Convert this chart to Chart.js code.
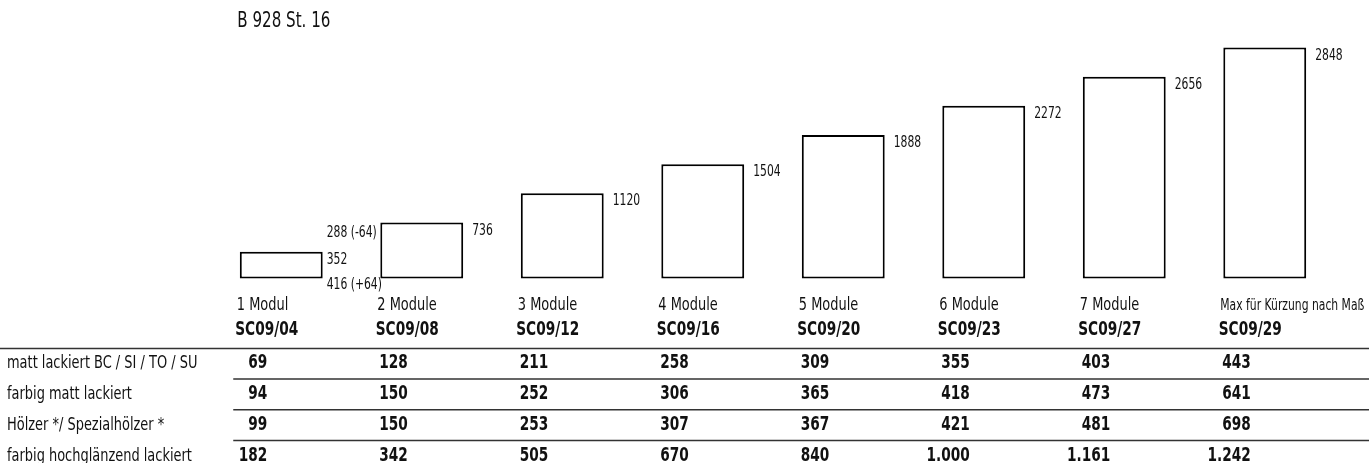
<!DOCTYPE html>
<html>
<head>
<meta charset="utf-8">
<script src="https://cdn.jsdelivr.net/npm/chart.js@4.4.1/dist/chart.umd.min.js"></script>
<style>
  html, body { margin: 0; padding: 0; background: #fff; }
  #wrap { position: relative; width: 1371px; height: 463px; }
</style>
</head>
<body>
<div id="wrap"><canvas id="c"></canvas></div>
<script>
const TITLE = 'B 928 St. 16';
const moduleLabels = ['1 Modul', '2 Module', '3 Module', '4 Module', '5 Module', '6 Module', '7 Module', 'Max für Kürzung nach Maß'];
const articleCodes = ['SC09/04', 'SC09/08', 'SC09/12', 'SC09/16', 'SC09/20', 'SC09/23', 'SC09/27', 'SC09/29'];
// height written next to each front
const heightLabels = ['352', '736', '1120', '1504', '1888', '2272', '2656', '2848'];
// heights of the rectangles as drawn (mm)
const barHeights = [352, 736, 1120, 1504, 1888, 2272, 2656, 3040];
const minusLabels = ['288 (-64)', '', '', '', '', '', '', ''];
const plusLabels = ['416 (+64)', '', '', '', '', '', '', ''];

const finishNames = ['matt lackiert BC / SI / TO / SU', 'farbig matt lackiert', 'Hölzer */ Spezialhölzer *', 'farbig hochglänzend lackiert'];
const priceMatt = [69, 128, 211, 258, 309, 355, 403, 443];
const priceFarbig = [94, 150, 252, 306, 365, 418, 473, 641];
const priceHolz = [99, 150, 253, 307, 367, 421, 481, 698];
const priceHochglanz = [182, 342, 505, 670, 840, 1000, 1161, 1242];
const priceRows = [priceMatt, priceFarbig, priceHolz, priceHochglanz];

// no condensed Helvetica here, so squeeze DejaVu Sans Condensed horizontally
const NARROW = "'DejaVu Sans Condensed', 'Liberation Sans Narrow', sans-serif";
const SQUEEZE = 0.8;

function fmt(n) {
  return String(n).replace(/\B(?=(\d{3})+(?!\d))/g, '.');
}

function txt(ctx, s, x, y, font, align, sx) {
  ctx.save();
  ctx.font = font;
  ctx.textAlign = align || 'left';
  ctx.translate(x, y);
  ctx.scale(sx || SQUEEZE, 1);
  ctx.fillText(s, 0, 0);
  ctx.restore();
}

const labelsPlugin = {
  id: 'labels',
  afterDraw(chart) {
    const ctx = chart.ctx;
    const x = chart.scales.x, y = chart.scales.y;
    const meta = chart.getDatasetMeta(0);
    const W = chart.width;
    const base = y.getPixelForValue(0);
    ctx.save();
    ctx.fillStyle = '#111';
    ctx.textBaseline = 'alphabetic';

    txt(ctx, TITLE, x.getPixelForValue(0) - 44, 27, '21px ' + NARROW);

    meta.data.forEach((bar, i) => {
      const p = bar.getProps(['x', 'y', 'width'], true);
      const left = p.x - p.width / 2, right = p.x + p.width / 2;
      const hasTol = minusLabels[i] || plusLabels[i];
      const small = '15px ' + NARROW;
      txt(ctx, heightLabels[i], right + (hasTol ? 4 : 9), p.y + 12, small);
      if (minusLabels[i]) txt(ctx, minusLabels[i], right + 4, p.y - 15, small);
      if (plusLabels[i]) txt(ctx, plusLabels[i], right + 4, base + 11, small);

      // module label, shrunk to fit the column when too long
      let fs = 18;
      ctx.font = fs + 'px ' + NARROW;
      const maxW = 145;
      const w = ctx.measureText(moduleLabels[i]).width * SQUEEZE;
      if (w > maxW) fs = Math.floor(fs * maxW / w * 10) / 10;
      txt(ctx, moduleLabels[i], left - 3, base + 32, fs + 'px ' + NARROW);

      txt(ctx, articleCodes[i], p.x - 46, base + 57, 'bold 19px ' + NARROW);
    });

    // price table
    const top = base + 70;
    const rowH = 30.7;
    ctx.strokeStyle = '#333';
    ctx.lineWidth = 1.5;
    ctx.beginPath();
    ctx.moveTo(0, top); ctx.lineTo(W - 2, top);
    for (let r = 1; r < priceRows.length; r++) {
      const ly = top + r * rowH;
      ctx.moveTo(x.getPixelForValue(0) - 48, ly); ctx.lineTo(W - 2, ly);
    }
    ctx.stroke();

    priceRows.forEach((row, r) => {
      const by = top + 20 + r * rowH;
      txt(ctx, finishNames[r], 7, by, '18px ' + NARROW);
      row.forEach((v, i) => {
        txt(ctx, fmt(v), x.getPixelForValue(i) - 14, by, 'bold 20px ' + NARROW, 'right', 0.76);
      });
    });
    ctx.restore();
  }
};

new Chart(document.getElementById('c'), {
  type: 'bar',
  data: {
    labels: moduleLabels,
    datasets: [{
      data: barHeights.map(h => [0, h]),
      backgroundColor: '#ffffff',
      borderColor: '#000000',
      borderWidth: 2,
      borderSkipped: false,
      barPercentage: 0.59,
      categoryPercentage: 1
    }]
  },
  options: {
    responsive: true,
    maintainAspectRatio: false,
    animation: false,
    devicePixelRatio: 1,
    layout: { padding: { left: 211, right: 36, top: 5, bottom: 177 } },
    scales: {
      x: { display: false, offset: true },
      y: { display: false, min: -100, max: 3600 }
    },
    plugins: {
      legend: { display: false },
      tooltip: { enabled: false }
    }
  },
  plugins: [labelsPlugin]
});
</script>
</body>
</html>
